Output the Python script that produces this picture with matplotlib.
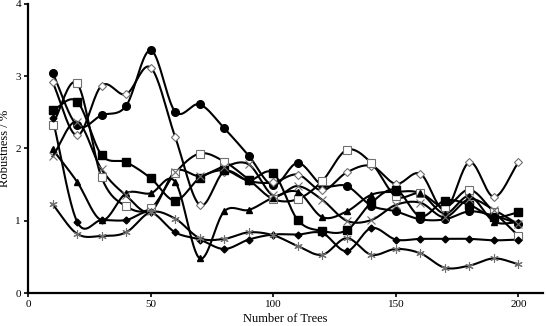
import numpy as np
import matplotlib
matplotlib.use("Agg")
import matplotlib.pyplot as plt

trees = [10, 20, 30, 40, 50, 60, 70, 80, 90, 100, 110, 120, 130, 140, 150, 160, 170, 180, 190, 200]

s_circle = [3.05, 2.32, 2.46, 2.59, 3.36, 2.51, 2.61, 2.28, 1.90, 1.49, 1.80, 1.49, 1.48, 1.21, 1.13, 1.02, 1.02, 1.13, 1.07, 0.96]
s_odiamond = [2.92, 2.18, 2.87, 2.75, 3.12, 2.16, 1.22, 1.68, 1.55, 1.53, 1.64, 1.42, 1.67, 1.76, 1.51, 1.65, 1.15, 1.81, 1.33, 1.81]
s_osquare = [2.33, 2.90, 1.60, 1.20, 1.17, 1.66, 1.93, 1.82, 1.57, 1.30, 1.30, 1.55, 1.98, 1.80, 1.34, 1.38, 1.19, 1.43, 1.12, 0.79]
s_fsquare = [2.53, 2.65, 1.91, 1.81, 1.59, 1.28, 1.59, 1.70, 1.56, 1.66, 1.01, 0.86, 0.87, 1.25, 1.43, 1.06, 1.28, 1.22, 1.05, 1.12]
s_triangle = [1.99, 1.54, 1.01, 1.38, 1.38, 1.54, 0.48, 1.13, 1.15, 1.32, 1.40, 1.05, 1.13, 1.36, 1.40, 1.38, 1.10, 1.34, 0.99, 0.98]
s_fdiamond = [2.42, 0.99, 1.01, 1.01, 1.12, 0.84, 0.74, 0.61, 0.74, 0.81, 0.81, 0.83, 0.58, 0.90, 0.74, 0.75, 0.75, 0.75, 0.73, 0.74]
s_star = [1.23, 0.82, 0.79, 0.84, 1.12, 1.03, 0.76, 0.75, 0.84, 0.80, 0.65, 0.53, 0.76, 0.53, 0.61, 0.55, 0.35, 0.38, 0.48, 0.40]
s_cross = [1.89, 2.37, 1.71, 1.35, 1.13, 1.68, 1.62, 1.75, 1.78, 1.35, 1.48, 1.29, 1.00, 1.01, 1.22, 1.25, 1.05, 1.30, 1.15, 0.95]

x_ticks = [0, 50, 100, 150, 200]
y_ticks = [0, 1, 2, 3, 4]


def smooth(x, y, n=20):
    x = np.asarray(x, float)
    y = np.asarray(y, float)
    px = np.concatenate([[2 * x[0] - x[1]], x, [2 * x[-1] - x[-2]]])
    py = np.concatenate([[2 * y[0] - y[1]], y, [2 * y[-1] - y[-2]]])
    xs, ys = [], []
    t = np.linspace(0, 1, n, endpoint=False)
    for i in range(1, len(px) - 2):
        for arr, out in ((px, xs), (py, ys)):
            p0, p1, p2, p3 = arr[i - 1], arr[i], arr[i + 1], arr[i + 2]
            v = 0.5 * ((2 * p1) + (-p0 + p2) * t + (2 * p0 - 5 * p1 + 4 * p2 - p3) * t ** 2
                       + (-p0 + 3 * p1 - 3 * p2 + p3) * t ** 3)
            out.extend(v)
    xs.append(x[-1])
    ys.append(y[-1])
    return np.array(xs), np.array(ys)


plt.rcParams['font.family'] = ['Liberation Serif', 'DejaVu Serif']

fig = plt.figure(figsize=(5.47, 3.26), dpi=100)
ax = fig.add_axes([0.0512, 0.101, 0.9415, 0.887])

gray = '#707070'
series = [
    (s_circle, dict(marker='o', ms=5.5, mfc='black', mec='black')),
    (s_odiamond, dict(marker='D', ms=4, mfc='white', mec=gray, mew=0.8)),
    (s_osquare, dict(marker='s', ms=6, mfc='white', mec=gray, mew=0.8)),
    (s_fsquare, dict(marker='s', ms=6, mfc='black', mec='black')),
    (s_triangle, dict(marker='^', ms=5, mfc='black', mec='black')),
    (s_fdiamond, dict(marker='D', ms=3.5, mfc='black', mec='black')),
    (s_star, dict(marker=(6, 2, 0), ms=6, mfc=gray, mec=gray, mew=0.8)),
    (s_cross, dict(marker='x', ms=5.5, mfc=gray, mec=gray, mew=0.8)),
]

for vals, style in series:
    sx, sy = smooth(trees, vals)
    ax.plot(sx, sy, color='black', lw=1.5, zorder=2)
    ax.plot(trees, vals, ls='none', zorder=3, **style)

ax.set_xlim(0, 210)
ax.set_ylim(0, 4)
ax.set_xticks(x_ticks)
ax.set_yticks(y_ticks)
for side in ('top', 'right'):
    ax.spines[side].set_visible(False)
for side in ('left', 'bottom'):
    ax.spines[side].set_linewidth(1.6)
ax.tick_params(direction='out', length=3, width=1.2, labelsize=8, pad=2)
ax.set_xlabel('Number of Trees', fontsize=9, labelpad=3)
ax.set_ylabel('Robustness / %', fontsize=9, labelpad=3)

fig.savefig('out.png', dpi=100)
